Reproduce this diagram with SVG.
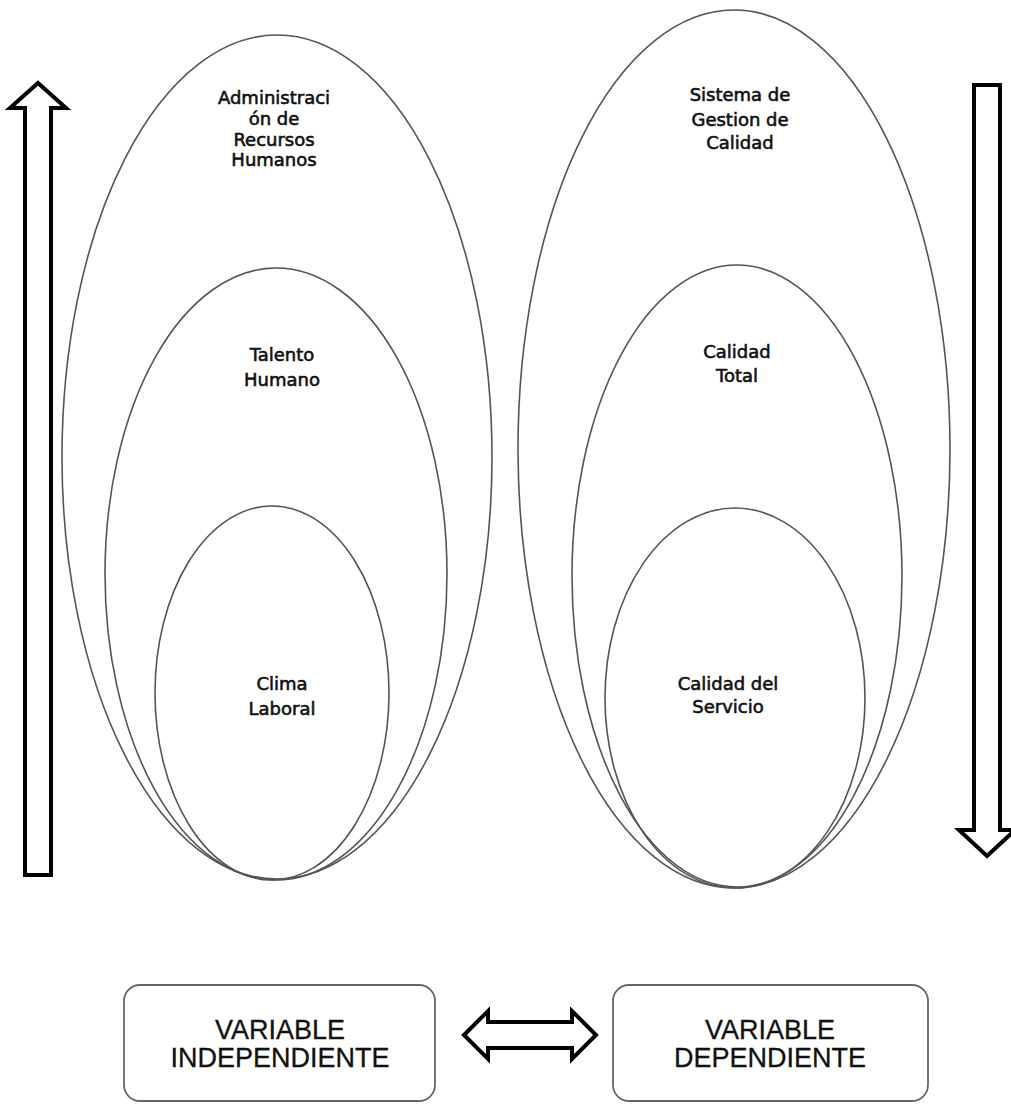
<svg xmlns="http://www.w3.org/2000/svg" width="1011" height="1104" viewBox="0 0 1011 1104">
<style>
.ell{fill:none;stroke:#555;stroke-width:1.6}
.arr{fill:#fff;stroke:#000;stroke-width:4;stroke-linejoin:miter}
.lbl{font-family:"DejaVu Sans",sans-serif;font-size:18px;fill:#111;stroke:#111;stroke-width:0.6;text-anchor:middle}
.box{fill:#fff;stroke:#666;stroke-width:1.8}
.btxt{font-family:"Liberation Sans",Arial,sans-serif;font-size:27px;fill:#111;stroke:#111;stroke-width:0.3;text-anchor:middle}
</style>
<rect width="1011" height="1104" fill="#fff"/>
<g id="left-ellipses">
<g id="admin-rrhh"><ellipse class="ell" cx="277" cy="457" rx="215" ry="422"/>
<text class="lbl" x="274" y="104">Administraci</text><text class="lbl" x="274" y="125">ón de</text><text class="lbl" x="274" y="146">Recursos</text><text class="lbl" x="274" y="166">Humanos</text></g>
<g id="talento"><ellipse class="ell" cx="276" cy="574" rx="171" ry="306"/>
<text class="lbl" x="282" y="361">Talento</text><text class="lbl" x="282" y="386">Humano</text></g>
<g id="clima"><ellipse class="ell" cx="272" cy="693" rx="117" ry="187"/>
<text class="lbl" x="282" y="690">Clima</text><text class="lbl" x="282" y="715">Laboral</text></g>
</g>
<g id="right-ellipses">
<g id="sgc"><ellipse class="ell" cx="734" cy="449" rx="216" ry="439"/>
<text class="lbl" x="740" y="101">Sistema de</text><text class="lbl" x="740" y="126">Gestion de</text><text class="lbl" x="740" y="149">Calidad</text></g>
<g id="calidad-total"><ellipse class="ell" cx="737" cy="576" rx="165" ry="311"/>
<text class="lbl" x="737" y="358">Calidad</text><text class="lbl" x="737" y="382">Total</text></g>
<g id="calidad-servicio"><ellipse class="ell" cx="735" cy="698" rx="130" ry="190"/>
<text class="lbl" x="728" y="690">Calidad del</text><text class="lbl" x="728" y="713">Servicio</text></g>
</g>
<g id="connectors">
<polygon class="arr" points="38,83 66,108 51,108 51,875 25,875 25,108 10,108"/>
<polygon class="arr" points="974,85 1000,85 1000,830 1015,830 987,856 959,830 974,830"/>
<polygon class="arr" points="464,1035 488,1011 488,1022 572,1022 572,1011 596,1035 572,1059 572,1048 488,1048 488,1059"/>
</g>
<g id="var-indep"><rect class="box" x="124" y="985" width="311" height="116" rx="16"/>
<text class="btxt" x="280" y="1039">VARIABLE</text><text class="btxt" x="280" y="1067">INDEPENDIENTE</text></g>
<g id="var-dep"><rect class="box" x="613" y="985" width="315" height="116" rx="16"/>
<text class="btxt" x="770" y="1039">VARIABLE</text><text class="btxt" x="770" y="1067">DEPENDIENTE</text></g>
</svg>
